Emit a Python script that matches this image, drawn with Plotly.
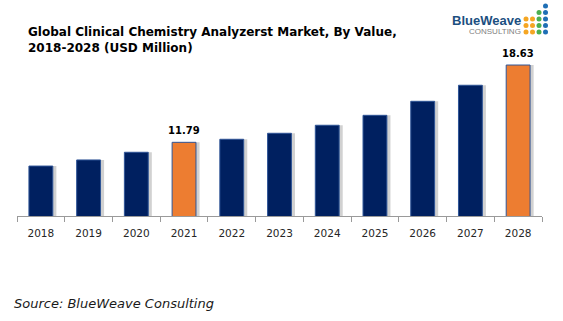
import plotly.graph_objects as go

years = ["2018", "2019", "2020", "2021", "2022", "2023", "2024", "2025", "2026", "2027", "2028"]
values = [9.69, 10.23, 10.91, 11.79, 12.06, 12.59, 13.30, 14.18, 15.42, 16.84, 18.63]
highlight = ["2021", "2028"]
label_text = {"2021": "11.79", "2028": "18.63"}

NAVY = "#002060"
ORANGE = "#ED7D31"
EDGE = "#2F5597"

W, H = 563, 321
ML, MR, MT, MB = 17, 21, 60, 105
PW, PH = W - ML - MR, H - MT - MB


def px(x):
    return (x - ML) / PW


def py(y):
    return (H - MB - y) / PH


colors = [ORANGE if y in highlight else NAVY for y in years]

fig = go.Figure()
# soft shadow
fig.add_trace(go.Bar(
    x=years, y=values, width=0.5, offset=-0.25 + 0.075,
    marker=dict(color="rgba(0,0,0,0.18)", line=dict(width=0)),
    hoverinfo="skip", showlegend=False,
))
fig.add_trace(go.Bar(
    x=years, y=values, width=0.5, offset=-0.25,
    marker=dict(color=colors, line=dict(color=EDGE, width=1)),
    showlegend=False,
))

annotations = []
for i, (yr, v) in enumerate(zip(years, values)):
    if yr in label_text:
        annotations.append(dict(
            x=i, y=v, xref="x", yref="y", text="<b>" + label_text[yr] + "</b>",
            showarrow=False, yanchor="bottom", yshift=4,
            font=dict(family="DejaVu Sans", size=10, color="#000000"),
        ))

# title
annotations.append(dict(
    x=px(26), y=py(23), xref="paper", yref="paper", xanchor="left", yanchor="top",
    align="left", showarrow=False,
    text="<b>Global Clinical Chemistry Analyzerst Market, By Value,<br>2018-2028 (USD Million)</b>",
    font=dict(family="DejaVu Sans", size=12, color="#000000"),
))
# source
annotations.append(dict(
    x=px(12), y=py(303), xref="paper", yref="paper", xanchor="left", yanchor="middle",
    showarrow=False, text="<i>Source: BlueWeave Consulting</i>",
    font=dict(family="DejaVu Sans", size=13, color="#1a1a1a"),
))
# logo text
annotations.append(dict(
    x=px(523), y=py(20), xref="paper", yref="paper", xanchor="right", yanchor="middle",
    showarrow=False, text="<b>BlueWeave</b>",
    font=dict(family="Liberation Sans Narrow, Arial Narrow, Liberation Sans, sans-serif", size=13, color="#1c4f80"),
))
annotations.append(dict(
    x=px(523), y=py(31), xref="paper", yref="paper", xanchor="right", yanchor="middle",
    showarrow=False, text="CONSULTING",
    font=dict(family="Liberation Sans Narrow, Arial Narrow, Liberation Sans, sans-serif", size=8, color="#808080"),
))

# logo dots
cols = [526, 532.5, 539, 545.5]
rows = [6, 12.5, 19, 25.5, 32]
dot_map = {
    0: [(2, "#F5A623"), (3, "#F5A623"), (4, "#F5A623")],
    1: [(2, "#F5A623"), (3, "#F5A623"), (4, "#F5A623")],
    2: [(1, "#4CAF50"), (2, "#4CAF50"), (3, "#4CAF50"), (4, "#4CAF50")],
    3: [(0, "#1F6FB5"), (1, "#1F6FB5"), (2, "#1F6FB5"), (3, "#1F6FB5"), (4, "#1F6FB5")],
}
shapes = []
r = 2.5
for ci, lst in dot_map.items():
    cx = cols[ci]
    for ri, col in lst:
        cy = rows[ri]
        shapes.append(dict(
            type="circle", xref="paper", yref="paper",
            x0=px(cx - r), x1=px(cx + r), y0=py(cy + r), y1=py(cy - r),
            fillcolor=col, line=dict(width=0),
        ))

fig.update_layout(
    width=W, height=H,
    margin=dict(l=ML, r=MR, t=MT, b=MB),
    paper_bgcolor="white", plot_bgcolor="white",
    barmode="overlay",
    annotations=annotations,
    shapes=shapes,
    xaxis=dict(
        type="category", showgrid=False, showline=True, linecolor="#9a9a9a", linewidth=1,
        ticks="outside", tickson="boundaries", ticklen=5, tickcolor="#9a9a9a",
        ticklabelstandoff=7,
        tickfont=dict(family="DejaVu Sans", size=10.5, color="#262626"),
        range=[-0.5, 10.5],
    ),
    yaxis=dict(
        range=[5.27, 5.27 + PH / 11.3], visible=False, showgrid=False, zeroline=False,
    ),
)

fig.write_html("out.html")
